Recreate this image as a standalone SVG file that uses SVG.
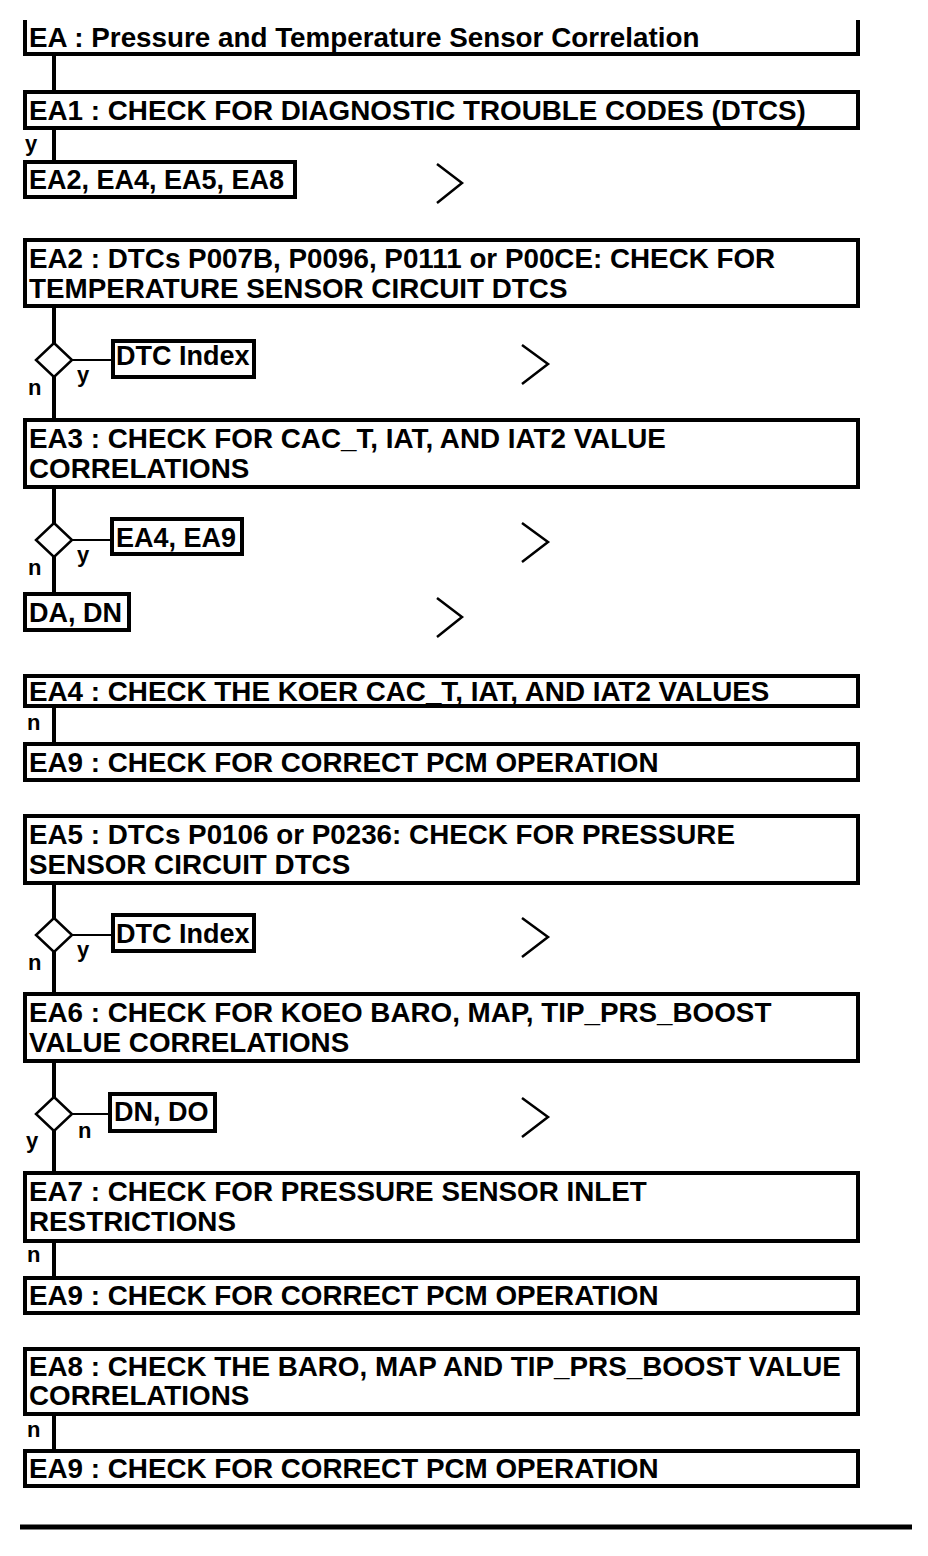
<svg xmlns="http://www.w3.org/2000/svg" width="928" height="1556" viewBox="0 0 928 1556">
<style>
.b{fill:#fff;stroke:#000;stroke-width:4}
.t{font-family:"Liberation Sans",Arial,sans-serif;font-weight:bold;font-size:27.8px;fill:#000}
.s{font-size:27px}
.l{font-family:"Liberation Sans",Arial,sans-serif;font-weight:bold;font-size:22px;fill:#000}
.c{stroke:#000;stroke-width:4;fill:none}
.h{stroke:#000;stroke-width:2;fill:none}
.d{fill:#fff;stroke:#000;stroke-width:2.5}
.v{stroke:#000;stroke-width:2.5;fill:none}
</style>
<rect width="928" height="1556" fill="#fff"/>
<g id="connectors">
<line class="c" x1="54" y1="54" x2="54" y2="92"/>
<line class="c" x1="54" y1="128" x2="54" y2="162"/>
<line class="c" x1="54" y1="306" x2="54" y2="343"/>
<line class="c" x1="54" y1="377" x2="54" y2="420"/>
<line class="h" x1="72" y1="360" x2="113" y2="360"/>
<line class="c" x1="54" y1="487" x2="54" y2="523"/>
<line class="c" x1="54" y1="557" x2="54" y2="594"/>
<line class="h" x1="72" y1="540" x2="112" y2="540"/>
<line class="c" x1="54" y1="706" x2="54" y2="744"/>
<line class="c" x1="54" y1="883" x2="54" y2="918"/>
<line class="c" x1="54" y1="952" x2="54" y2="994"/>
<line class="h" x1="72" y1="935" x2="113" y2="935"/>
<line class="c" x1="54" y1="1061" x2="54" y2="1097"/>
<line class="c" x1="54" y1="1131" x2="54" y2="1172"/>
<line class="h" x1="72" y1="1114" x2="110" y2="1114"/>
<line class="c" x1="54" y1="1241" x2="54" y2="1278"/>
<line class="c" x1="54" y1="1414" x2="54" y2="1451"/>
<polyline class="v" points="437,164 462,183 437,203"/>
<polyline class="v" points="522,345 548,364 522,384"/>
<polyline class="v" points="522,523 548,542 522,562"/>
<polyline class="v" points="437,598 462,617 437,637"/>
<polyline class="v" points="522,918 548,937 522,957"/>
<polyline class="v" points="522,1098 548,1117 522,1137"/>
<text class="l" x="25" y="151">y</text>
<text class="l" x="77" y="382">y</text>
<text class="l" x="28" y="395">n</text>
<text class="l" x="77" y="562">y</text>
<text class="l" x="28" y="575">n</text>
<text class="l" x="27" y="730">n</text>
<text class="l" x="77" y="957">y</text>
<text class="l" x="28" y="970">n</text>
<text class="l" x="78" y="1138">n</text>
<text class="l" x="26" y="1148">y</text>
<text class="l" x="27" y="1262">n</text>
<text class="l" x="27" y="1437">n</text>
</g>
<g id="EA">
<polyline class="c" points="25,20 25,54 858,54 858,20"/>
<text class="t" x="29" y="47">EA : Pressure and Temperature Sensor Correlation</text>
</g>
<g id="EA1">
<rect class="b" x="25" y="92" width="833" height="36"/>
<text class="t" x="29" y="120">EA1 : CHECK FOR DIAGNOSTIC TROUBLE CODES (DTCS)</text>
</g>
<g id="EA1-goto">
<rect class="b" x="25" y="162" width="270" height="35"/>
<text class="t s" x="29" y="189">EA2, EA4, EA5, EA8</text>
</g>
<g id="EA2">
<rect class="b" x="25" y="240" width="833" height="66"/>
<text class="t" x="29" y="268">EA2 : DTCs P007B, P0096, P0111 or P00CE: CHECK FOR</text>
<text class="t" x="29" y="298">TEMPERATURE SENSOR CIRCUIT DTCS</text>
</g>
<g id="EA2-decision">
<polygon class="d" points="54,343 72,360 54,377 36,360"/>
</g>
<g id="EA2-yes">
<rect class="b" x="113" y="341" width="141" height="36"/>
<text class="t s" x="116" y="365">DTC Index</text>
</g>
<g id="EA3">
<rect class="b" x="25" y="420" width="833" height="67"/>
<text class="t" x="29" y="448">EA3 : CHECK FOR CAC_T, IAT, AND IAT2 VALUE</text>
<text class="t" x="29" y="478">CORRELATIONS</text>
</g>
<g id="EA3-decision">
<polygon class="d" points="54,523 72,540 54,557 36,540"/>
</g>
<g id="EA3-yes">
<rect class="b" x="112" y="519" width="130" height="35"/>
<text class="t s" x="116" y="547">EA4, EA9</text>
</g>
<g id="EA3-no">
<rect class="b" x="25" y="594" width="104" height="36"/>
<text class="t s" x="29" y="622">DA, DN</text>
</g>
<g id="EA4">
<rect class="b" x="25" y="676" width="833" height="30"/>
<text class="t" x="29" y="701">EA4 : CHECK THE KOER CAC_T, IAT, AND IAT2 VALUES</text>
</g>
<g id="EA9a">
<rect class="b" x="25" y="744" width="833" height="36"/>
<text class="t" x="29" y="772">EA9 : CHECK FOR CORRECT PCM OPERATION</text>
</g>
<g id="EA5">
<rect class="b" x="25" y="816" width="833" height="67"/>
<text class="t" x="29" y="844">EA5 : DTCs P0106 or P0236: CHECK FOR PRESSURE</text>
<text class="t" x="29" y="874">SENSOR CIRCUIT DTCS</text>
</g>
<g id="EA5-decision">
<polygon class="d" points="54,918 72,935 54,952 36,935"/>
</g>
<g id="EA5-yes">
<rect class="b" x="113" y="915" width="141" height="36"/>
<text class="t s" x="116" y="943">DTC Index</text>
</g>
<g id="EA6">
<rect class="b" x="25" y="994" width="833" height="67"/>
<text class="t" x="29" y="1022">EA6 : CHECK FOR KOEO BARO, MAP, TIP_PRS_BOOST</text>
<text class="t" x="29" y="1052">VALUE CORRELATIONS</text>
</g>
<g id="EA6-decision">
<polygon class="d" points="54,1097 72,1114 54,1131 36,1114"/>
</g>
<g id="EA6-no">
<rect class="b" x="110" y="1094" width="105" height="37"/>
<text class="t s" x="114" y="1121">DN, DO</text>
</g>
<g id="EA7">
<rect class="b" x="25" y="1173" width="833" height="68"/>
<text class="t" x="29" y="1201">EA7 : CHECK FOR PRESSURE SENSOR INLET</text>
<text class="t" x="29" y="1231">RESTRICTIONS</text>
</g>
<g id="EA9b">
<rect class="b" x="25" y="1278" width="833" height="35"/>
<text class="t" x="29" y="1305">EA9 : CHECK FOR CORRECT PCM OPERATION</text>
</g>
<g id="EA8">
<rect class="b" x="25" y="1349" width="833" height="65"/>
<text class="t" x="29" y="1376">EA8 : CHECK THE BARO, MAP AND TIP_PRS_BOOST VALUE</text>
<text class="t" x="29" y="1405">CORRELATIONS</text>
</g>
<g id="EA9c">
<rect class="b" x="25" y="1451" width="833" height="35"/>
<text class="t" x="29" y="1478">EA9 : CHECK FOR CORRECT PCM OPERATION</text>
</g>
<line x1="20" y1="1527" x2="912" y2="1527" stroke="#000" stroke-width="5"/>
</svg>
